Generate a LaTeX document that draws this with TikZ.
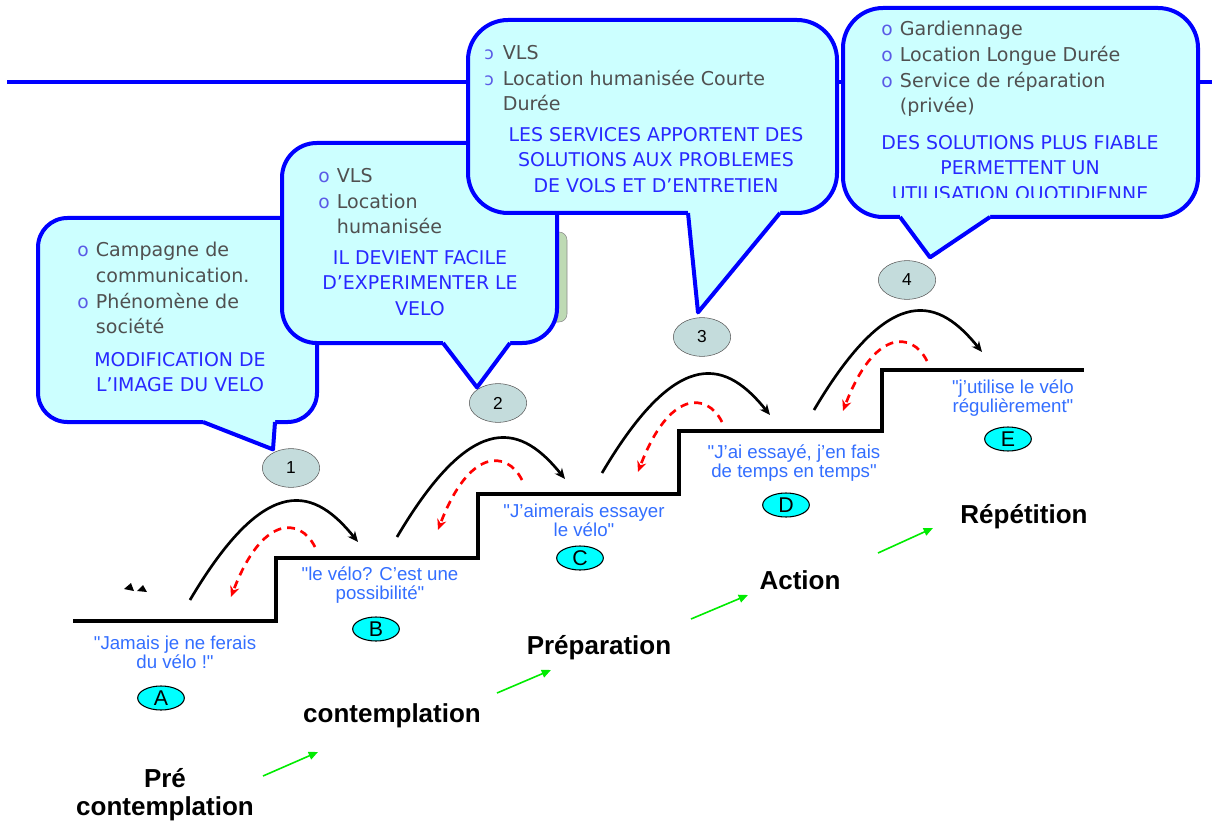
\documentclass[tikz,border=0pt]{standalone}
\usepackage{fontspec}
\setmainfont{Liberation Sans}[Ligatures=TeXOff]
\newfontfamily\bubblefont{DejaVu Sans}
\usepackage{graphicx}
\usetikzlibrary{shapes.geometric,arrows.meta,calc}

\definecolor{bubblefill}{RGB}{204,255,255}
\definecolor{bubbleline}{RGB}{0,0,255}
\definecolor{capsblue}{RGB}{40,40,255}
\definecolor{listgray}{RGB}{80,80,80}
\definecolor{bulletblue}{RGB}{90,90,230}
\definecolor{quoteblue}{RGB}{51,110,255}
\definecolor{numfill}{RGB}{196,220,220}
\definecolor{letterfill}{RGB}{0,255,255}
\definecolor{arrowgreen}{RGB}{0,235,0}
\definecolor{hiddenbox}{RGB}{190,218,180}

\newcommand{\bul}{\makebox[14pt][l]{\textcolor{bulletblue}{\fontsize{14}{14}\selectfont o}}}
\newcommand{\rbul}{\makebox[14pt][l]{\textcolor{bulletblue}{\fontsize{13}{13}\selectfont\reflectbox{c}}}}
\newcommand{\nobul}{\hspace*{14pt}}

\tikzset{
  bubble/.style={draw=bubbleline, fill=bubblefill, line width=3pt, rounded corners=#1},
  bubbletail/.style={draw=bubbleline, line width=3pt, line join=round},
  listtext/.style={anchor=north west, inner sep=0pt, align=left, text=listgray,
    font=\bubblefont\fontsize{14.3}{19.3}\selectfont},
  capstext/.style={inner sep=0pt, align=center, text=capsblue,
    font=\bubblefont\fontsize{14.2}{19}\selectfont},
  numnode/.style={ellipse, draw=black!65, fill=numfill, minimum width=43pt,
    minimum height=29pt, inner sep=0pt, font=\fontsize{13}{13}\selectfont},
  letternode/.style={ellipse, draw=black, line width=0.8pt, fill=letterfill,
    minimum width=35pt, minimum height=18pt, inner sep=0pt, font=\fontsize{16}{16}\selectfont},
  saying/.style={align=center, text=quoteblue, inner sep=0pt, font=\fontsize{14}{14.5}\selectfont},
  stage/.style={align=center, inner sep=0pt, font=\bfseries\fontsize{19.5}{21}\selectfont},
  stairs/.style={line width=3pt},
  jump/.style={line width=2pt, -{Stealth[length=8pt,width=7pt]}},
  relapse/.style={red, line width=2pt, dash pattern=on 6pt off 4.5pt, -{Stealth[length=8pt,width=7pt]}},
  progress/.style={arrowgreen, line width=1.2pt, -{Triangle[length=7pt,width=6pt]}}
}

\begin{document}
\begin{tikzpicture}[x=0.75pt,y=-0.75pt]
  \useasboundingbox (0,0) rectangle (1212,827);

  \draw [bubbleline, line width=3pt] (7,82) -- (1212,82);

  % numbers under the bubbles
  \node [numnode] (n1) at (291,468) {1};
  \node [numnode] (n2) at (498,403) {2};
  \node [numnode] (n3) at (702,337) {3};
  \node [numnode] (n4) at (907,280) {4};

  % bubble 1
  \draw [bubble=22pt] (38,218) rectangle (317,422);
  \fill [bubblefill] (203,419) -- (203,422) -- ($(n1.north)+(-18,1)$) -- (275,422) -- (275,419) -- cycle;
  \draw [bubbletail] (203,422) -- ($(n1.north)+(-18,1)$) -- (275,422);
  \node [listtext] (l1) at (77,242) {\bul Campagne de\\ \nobul communication.\\ \bul Phénomène de\\ \nobul société};
  \node [capstext] (m1) at (180,372) {MODIFICATION DE\\ L’IMAGE DU VELO};

  % bubble 2
  \draw [draw=black!45, fill=hiddenbox, rounded corners=6pt] (520,232) rectangle (567,322);
  \draw [bubble=26pt] (282,143) rectangle (557,343);
  \fill [bubblefill] (443,340) -- (443,343) -- ($(n2.north)+(-21,4)$) -- (510,343) -- (510,340) -- cycle;
  \draw [bubbletail] (443,343) -- ($(n2.north)+(-21,4)$) -- (510,343);
  \node [listtext] (l2) at (318,168) {\bul VLS\\ \bul Location\\ \nobul humanisée};
  \node [capstext] (m2) at (420,283) {IL DEVIENT FACILE\\ D’EXPERIMENTER LE\\ VELO};

  % bubble 3
  \draw [bubble=30pt] (468,20) rectangle (837,213);
  \fill [bubblefill] (688,210) -- (688,213) -- ($(n3.north)+(-4,-5)$) -- (780,213) -- (780,210) -- cycle;
  \draw [bubbletail] (688,213) -- ($(n3.north)+(-4,-5)$) -- (780,213);
  \node [listtext] (l3) at (484,45) {\rbul VLS\\ \rbul Location humanisée Courte\\ \nobul Durée};
  \node [capstext] (m3) at (656,160) {LES SERVICES APPORTENT DES\\ SOLUTIONS AUX PROBLEMES\\ DE VOLS ET D’ENTRETIEN};

  % bubble 4
  \draw [bubble=30pt] (843,8) rectangle (1198,217);
  \fill [bubblefill] (900,214) -- (900,217) -- ($(n4.north)+(23,-3)$) -- (990,217) -- (990,214) -- cycle;
  \draw [bubbletail] (900,217) -- ($(n4.north)+(23,-3)$) -- (990,217);
  \node [listtext] (l4) at (881,21) {\bul Gardiennage\\ \bul Location Longue Durée\\ \bul Service de réparation\\ \nobul (privée)};
  \begin{scope}
    \clip (843,8) rectangle (1198,198);
    \node [capstext] (m4) at (1020,169) {DES SOLUTIONS PLUS FIABLE\\ PERMETTENT UN\\ UTILISATION QUOTIDIENNE};
  \end{scope}

  % the steps
  \draw [stairs] (73,621) -| (276,558) -| (478,494) -| (679,431) -| (882,370) -- (1084,370);
  \fill (131,583) -- (124,589) -- (134,591) -- cycle;
  \fill (143,585) -- (137,591) -- (147,592) -- cycle;

  \foreach \i/\dx/\dy/\rx/\ry in {1/0/0/0/0, 2/207/-63/207/-67, 3/412/-127/407/-125, 4/624/-190/612/-186} {
    \begin{scope}[shift={(\dx,\dy)}]
      \coordinate (take\i) at (190,600);
      \coordinate (land\i) at (358,542);
      \draw [jump] (take\i) .. controls (268,468) and (316,490) .. (land\i);
    \end{scope}
    \begin{scope}[shift={(\rx,\ry)}]
      \coordinate (fall\i) at (315,547);
      \coordinate (back\i) at (231,597);
      \draw [relapse] (fall\i) .. controls (300,517) and (262,515) .. (back\i);
    \end{scope}
  }

  \node [saying] (qA) at (175,652) {"Jamais je ne ferais\\ du vélo !"};
  \node [saying] (qB) at (380,585) {"le vélo? C’est une\\ possibilité"};
  \node [saying] (qC) at (584,520) {"J’aimerais essayer\\ le vélo"};
  \node [saying] (qD) at (794,463) {"J’ai essayé, j’en fais\\ de temps en temps"};
  \node [saying] (qE) at (1013,398) {"j’utilise le vélo\\ régulièrement"};

  \node [letternode] (A) at (161,698) {A};
  \node [letternode] (B) at (376,629) {B};
  \node [letternode] (C) at (580,558) {C};
  \node [letternode] (D) at (786,505) {D};
  \node [letternode] (E) at (1008,439) {E};

  \node [stage] (s1) at (165,795) {Pré\\ contemplation};
  \node [stage] (s2) at (392,716) {contemplation};
  \node [stage] (s3) at (599,648) {Préparation};
  \node [stage] (s4) at (800,580) {Action};
  \node [stage] (s5) at (1024,517) {Répétition};

  \foreach \i/\ax/\ay/\bx/\by in {1/263/776/318/752, 2/497/693/551/670, 3/691/619/748/595, 4/878/553/933/528}
    \draw [progress] (\ax,\ay) coordinate (g\i) -- (\bx,\by) coordinate (h\i);
\end{tikzpicture}
\end{document}
